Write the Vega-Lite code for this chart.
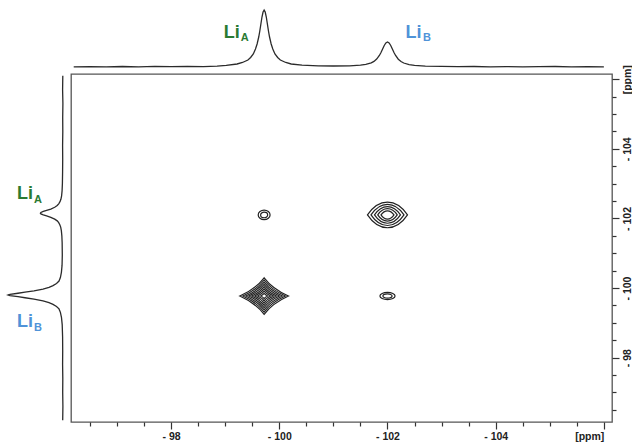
{
  "$schema": "https://vega.github.io/schema/vega-lite/v6.json",
  "padding": {"left": 5, "top": 5, "right": 0, "bottom": 0},
  "background": "white",
  "config": {"view": {"stroke": null}, "font": "Liberation Sans"},
  "columns": 2,
  "bounds": "flush",
  "spacing": {"row": 6, "column": 6},
  "datasets": {
    "top": [
      {"x": -96.2, "v": 0.2}, {"x": -96.5, "v": 0.4}, {"x": -96.8, "v": 0.1}, {"x": -97.1, "v": 0.5},
      {"x": -97.4, "v": 0.2}, {"x": -97.7, "v": 0.6}, {"x": -98.0, "v": 0.3}, {"x": -98.3, "v": 0.5},
      {"x": -98.6, "v": 0.4}, {"x": -98.85, "v": 0.9}, {"x": -99.02, "v": 1.6}, {"x": -99.22, "v": 3},
      {"x": -99.32, "v": 4.5}, {"x": -99.42, "v": 7}, {"x": -99.47, "v": 9.5}, {"x": -99.52, "v": 13},
      {"x": -99.56, "v": 18}, {"x": -99.59, "v": 23}, {"x": -99.62, "v": 30}, {"x": -99.64, "v": 36},
      {"x": -99.66, "v": 43}, {"x": -99.68, "v": 50}, {"x": -99.70, "v": 55}, {"x": -99.72, "v": 57},
      {"x": -99.74, "v": 55}, {"x": -99.76, "v": 50}, {"x": -99.78, "v": 43}, {"x": -99.80, "v": 36},
      {"x": -99.82, "v": 30}, {"x": -99.85, "v": 23}, {"x": -99.88, "v": 18}, {"x": -99.92, "v": 13},
      {"x": -99.97, "v": 9.5}, {"x": -100.02, "v": 7}, {"x": -100.12, "v": 4.5}, {"x": -100.22, "v": 3},
      {"x": -100.42, "v": 1.8}, {"x": -100.72, "v": 1.1}, {"x": -101.0, "v": 1.0}, {"x": -101.3, "v": 1.2},
      {"x": -101.5, "v": 1.9}, {"x": -101.6, "v": 2.6}, {"x": -101.7, "v": 4.2}, {"x": -101.75, "v": 5.6},
      {"x": -101.8, "v": 7.9}, {"x": -101.85, "v": 11.5}, {"x": -101.88, "v": 14.5}, {"x": -101.91, "v": 18},
      {"x": -101.94, "v": 21.5}, {"x": -101.97, "v": 24}, {"x": -102.0, "v": 25}, {"x": -102.03, "v": 24},
      {"x": -102.06, "v": 21.5}, {"x": -102.09, "v": 18}, {"x": -102.12, "v": 14.5}, {"x": -102.15, "v": 11.5},
      {"x": -102.2, "v": 7.8}, {"x": -102.25, "v": 5.5}, {"x": -102.3, "v": 4}, {"x": -102.4, "v": 2.4},
      {"x": -102.5, "v": 1.6}, {"x": -102.7, "v": 0.8}, {"x": -103.0, "v": 0.6}, {"x": -103.3, "v": 0.3},
      {"x": -103.6, "v": 0.5}, {"x": -103.9, "v": 0.2}, {"x": -104.2, "v": 0.4}, {"x": -104.5, "v": 0.1},
      {"x": -104.8, "v": 0.3}, {"x": -105.1, "v": 0.5}, {"x": -105.4, "v": 0.2}, {"x": -105.7, "v": 0.4},
      {"x": -106.0, "v": 0.2}
    ],
    "left": [
      {"y": -106.1, "v": 0.2}, {"y": -105.7, "v": 0.4}, {"y": -105.3, "v": 0.1}, {"y": -104.9, "v": 0.3},
      {"y": -104.5, "v": 0.2}, {"y": -104.1, "v": 0.4}, {"y": -103.7, "v": 0.3}, {"y": -103.35, "v": 0.4},
      {"y": -103.0, "v": 0.6}, {"y": -102.8, "v": 0.9}, {"y": -102.65, "v": 1.4}, {"y": -102.55, "v": 2.1},
      {"y": -102.48, "v": 3.0}, {"y": -102.42, "v": 4.3}, {"y": -102.37, "v": 5.8}, {"y": -102.32, "v": 8.3},
      {"y": -102.27, "v": 12.2}, {"y": -102.23, "v": 16.4}, {"y": -102.20, "v": 19.7}, {"y": -102.17, "v": 22.1},
      {"y": -102.15, "v": 22.6}, {"y": -102.13, "v": 22.1}, {"y": -102.10, "v": 19.7}, {"y": -102.07, "v": 16.4},
      {"y": -102.03, "v": 12.2}, {"y": -101.98, "v": 8.3}, {"y": -101.93, "v": 5.8}, {"y": -101.88, "v": 4.3},
      {"y": -101.82, "v": 3.2}, {"y": -101.75, "v": 2.3}, {"y": -101.65, "v": 1.65}, {"y": -101.5, "v": 1.15},
      {"y": -101.3, "v": 0.85}, {"y": -100.95, "v": 0.7}, {"y": -100.65, "v": 0.95}, {"y": -100.45, "v": 1.6},
      {"y": -100.3, "v": 2.6}, {"y": -100.2, "v": 4}, {"y": -100.13, "v": 6.5}, {"y": -100.07, "v": 10},
      {"y": -100.02, "v": 14}, {"y": -99.97, "v": 20}, {"y": -99.92, "v": 29}, {"y": -99.88, "v": 38},
      {"y": -99.85, "v": 45}, {"y": -99.82, "v": 53}, {"y": -99.80, "v": 55}, {"y": -99.78, "v": 53},
      {"y": -99.75, "v": 45}, {"y": -99.72, "v": 38}, {"y": -99.68, "v": 29}, {"y": -99.63, "v": 20},
      {"y": -99.58, "v": 14}, {"y": -99.53, "v": 10}, {"y": -99.47, "v": 6.5}, {"y": -99.40, "v": 4},
      {"y": -99.30, "v": 2.6}, {"y": -99.15, "v": 1.5}, {"y": -98.95, "v": 0.8}, {"y": -98.6, "v": 0.4},
      {"y": -98.2, "v": 0.3}, {"y": -97.8, "v": 0.4}, {"y": -97.4, "v": 0.2}, {"y": -97.0, "v": 0.3},
      {"y": -96.6, "v": 0.1}, {"y": -96.2, "v": 0.3}
    ],
    "contours": [
      {"peak": "AA", "x": -99.72, "y": -99.77, "w": 0.9},
      {"peak": "AA", "x": -99.72, "y": -99.77, "w": 0.79},
      {"peak": "AA", "x": -99.72, "y": -99.77, "w": 0.68},
      {"peak": "AA", "x": -99.72, "y": -99.77, "w": 0.57},
      {"peak": "AA", "x": -99.72, "y": -99.77, "w": 0.46},
      {"peak": "AA", "x": -99.72, "y": -99.77, "w": 0.35},
      {"peak": "AA", "x": -99.72, "y": -99.77, "w": 0.24},
      {"peak": "AA", "x": -99.72, "y": -99.77, "w": 0.13},
      {"peak": "BB", "x": -102.0, "y": -102.1, "w": 0.74},
      {"peak": "BB", "x": -102.0, "y": -102.1, "w": 0.61},
      {"peak": "BB", "x": -102.0, "y": -102.1, "w": 0.48},
      {"peak": "BB", "x": -102.0, "y": -102.1, "w": 0.36},
      {"peak": "BB", "x": -102.0, "y": -102.1, "w": 0.24},
      {"peak": "AB", "x": -99.72, "y": -102.1, "w": 0.22},
      {"peak": "AB", "x": -99.72, "y": -102.1, "w": 0.13},
      {"peak": "BA", "x": -102.0, "y": -99.77, "w": 0.28},
      {"peak": "BA", "x": -102.0, "y": -99.77, "w": 0.17}
    ],
    "labelsTop": [
      {"txt": "Li", "role": "main", "sp": "A", "x": -99.12, "y": 34},
      {"txt": "A", "role": "sub", "sp": "A", "x": -99.36, "y": 29},
      {"txt": "Li", "role": "main", "sp": "B", "x": -102.48, "y": 34},
      {"txt": "B", "role": "sub", "sp": "B", "x": -102.73, "y": 29}
    ],
    "labelsLeft": [
      {"txt": "Li", "role": "main", "sp": "A", "v": 38, "y": -102.71},
      {"txt": "A", "role": "sub", "sp": "A", "v": 25, "y": -102.54},
      {"txt": "Li", "role": "main", "sp": "B", "v": 38, "y": -99.03},
      {"txt": "B", "role": "sub", "sp": "B", "v": 25, "y": -98.86}
    ]
  },
  "concat": [
    {
      "width": 60, "height": 63,
      "data": {"values": [{}]},
      "mark": {"type": "text", "text": ""},
      "encoding": {}
    },
    {
      "width": 541, "height": 63,
      "layer": [
        {
          "data": {"name": "top"},
          "mark": {"type": "line", "color": "#2b2b2b", "strokeWidth": 1.3},
          "encoding": {
            "x": {"field": "x", "type": "quantitative", "scale": {"domain": [-96.15, -106.15], "nice": false, "zero": false}, "axis": null},
            "y": {"field": "v", "type": "quantitative", "scale": {"domain": [-1, 62], "nice": false, "zero": false}, "axis": null}
          }
        },
        {
          "data": {"name": "labelsTop"},
          "mark": {"type": "text", "fontWeight": "bold", "font": "Liberation Sans"},
          "encoding": {
            "x": {"field": "x", "type": "quantitative"},
            "y": {"field": "y", "type": "quantitative"},
            "text": {"field": "txt"},
            "size": {"field": "role", "type": "ordinal", "scale": {"domain": ["main", "sub"], "range": [18, 11]}, "legend": null},
            "color": {"field": "sp", "type": "nominal", "scale": {"domain": ["A", "B"], "range": ["#2a7a32", "#4f93d8"]}, "legend": null}
          }
        }
      ]
    },
    {
      "width": 60, "height": 348,
      "layer": [
        {
          "data": {"name": "left"},
          "mark": {"type": "line", "color": "#2b2b2b", "strokeWidth": 1.3},
          "encoding": {
            "x": {"field": "v", "type": "quantitative", "scale": {"domain": [58, -2], "nice": false, "zero": false}, "axis": null},
            "y": {"field": "y", "type": "quantitative", "scale": {"domain": [-96.15, -106.15], "nice": false, "zero": false}, "axis": null},
            "order": {"field": "y", "type": "quantitative"}
          }
        },
        {
          "data": {"name": "labelsLeft"},
          "mark": {"type": "text", "fontWeight": "bold", "font": "Liberation Sans"},
          "encoding": {
            "x": {"field": "v", "type": "quantitative"},
            "y": {"field": "y", "type": "quantitative"},
            "text": {"field": "txt"},
            "size": {"field": "role", "type": "ordinal", "scale": {"domain": ["main", "sub"], "range": [18, 11]}, "legend": null},
            "color": {"field": "sp", "type": "nominal", "scale": {"domain": ["A", "B"], "range": ["#2a7a32", "#4f93d8"]}, "legend": null}
          }
        }
      ]
    },
    {
      "width": 541, "height": 348,
      "view": {"stroke": "#555", "strokeWidth": 1.3},
      "data": {"name": "contours"},
      "mark": {"type": "point", "filled": false, "color": "#222", "strokeWidth": 1.2, "opacity": 1},
      "encoding": {
        "x": {
          "field": "x", "type": "quantitative",
          "scale": {"domain": [-96.15, -106.15], "nice": false, "zero": false},
          "axis": {
            "orient": "bottom", "title": null, "grid": false, "domain": false,
            "values": [-96.5, -97, -97.5, -98, -98.5, -99, -99.5, -100, -100.5, -101, -101.5, -102, -102.5, -103, -103.5, -104, -104.5, -105, -105.5, -106],
            "labelExpr": "datum.value == -106 ? '[ppm]' : (datum.value % 2 == 0 ? '- ' + abs(datum.value) : '')",
            "labelAlign": {"condition": {"test": "datum.value == -106", "value": "right"}, "value": "center"},
            "tickSize": {"condition": {"test": "datum.value % 2 == 0", "value": 7}, "value": 4},
            "tickColor": "#333", "tickWidth": 1.2, "labelColor": "#222", "labelFont": "Liberation Sans", "labelFontWeight": "bold",
            "labelFontSize": 10.5, "labelPadding": 2, "labelOverlap": false, "labelFlush": false, "labelBound": false
          }
        },
        "y": {
          "field": "y", "type": "quantitative",
          "scale": {"domain": [-96.15, -106.15], "nice": false, "zero": false},
          "axis": {
            "orient": "right", "title": null, "grid": false, "domain": false,
            "values": [-96.5, -97, -97.5, -98, -98.5, -99, -99.5, -100, -100.5, -101, -101.5, -102, -102.5, -103, -103.5, -104, -104.5, -105, -105.5, -106],
            "labelExpr": "datum.value == -106 ? '[ppm]' : (datum.value % 2 == 0 ? '- ' + abs(datum.value) : '')",
            "tickSize": {"condition": {"test": "datum.value % 2 == 0", "value": 7}, "value": 4},
            "labelAngle": -90, "labelAlign": "center", "labelBaseline": "top",
            "tickColor": "#333", "tickWidth": 1.2, "labelColor": "#222", "labelFont": "Liberation Sans", "labelFontWeight": "bold",
            "labelFontSize": 10.5, "labelPadding": 3, "labelOverlap": false, "labelFlush": false, "labelBound": false
          }
        },
        "shape": {
          "field": "peak", "type": "nominal", "legend": null,
          "scale": {
            "domain": ["AA", "BB", "AB", "BA"],
            "range": [
              "M-1,0 C-0.6,-0.18 -0.25,-0.42 0,-0.75 C0.25,-0.42 0.6,-0.18 1,0 C0.6,0.18 0.25,0.42 0,0.75 C-0.25,0.42 -0.6,0.18 -1,0 Z",
              "M-1,0 C-0.8,-0.3 -0.5,-0.64 0,-0.64 C0.5,-0.64 0.8,-0.3 1,0 C0.8,0.3 0.5,0.64 0,0.64 C-0.5,0.64 -0.8,0.3 -1,0 Z",
              "M-1,0 C-1,-0.442 -0.552,-0.8 0,-0.8 C0.552,-0.8 1,-0.442 1,0 C1,0.442 0.552,0.8 0,0.8 C-0.552,0.8 -1,0.442 -1,0 Z",
              "M-1,0 C-1,-0.259 -0.552,-0.47 0,-0.47 C0.552,-0.47 1,-0.259 1,0 C1,0.259 0.552,0.47 0,0.47 C-0.552,0.47 -1,0.259 -1,0 Z"
            ]
          }
        },
        "size": {
          "field": "w", "type": "quantitative", "legend": null,
          "scale": {"type": "pow", "exponent": 2, "domain": [0, 1], "range": [0, 2927]}
        }
      }
    }
  ]
}
